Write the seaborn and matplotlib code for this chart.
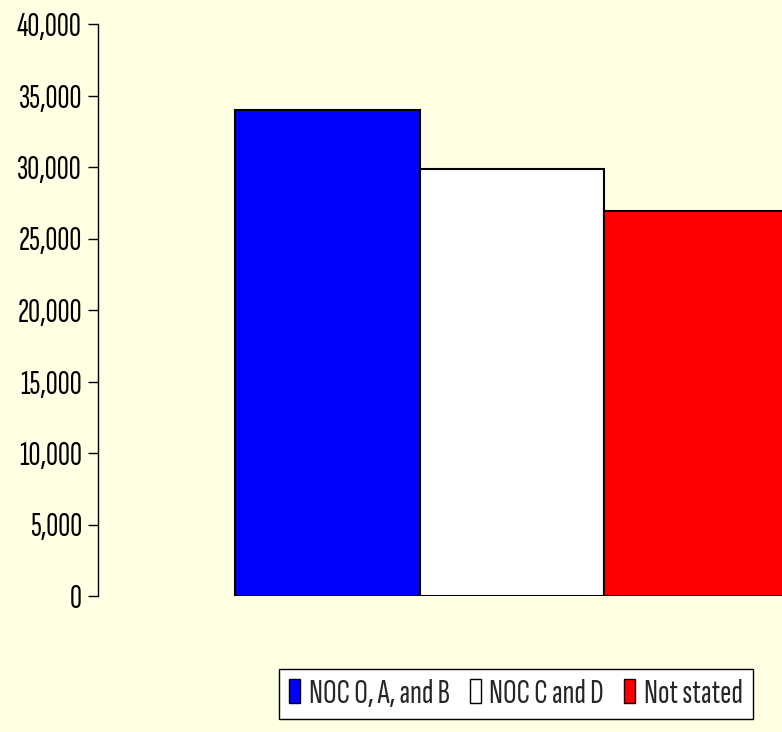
import matplotlib
matplotlib.use("Agg")
import matplotlib.pyplot as plt
import seaborn as sns
import pandas as pd
from matplotlib.ticker import FuncFormatter, MultipleLocator

categories = ["Total"]
series = ["NOC O, A, and B", "NOC C and D", "Not stated"]
values = [34000, 29850, 26950]
colors = ["#0000FF", "#FFFFFF", "#FF0000"]

df = pd.DataFrame({"cat": categories * len(series), "series": series, "value": values})

sns.set_theme(style="white")
BG = "#FFFFE3"
FONT = ["Sofia Sans Extra Condensed", "Liberation Sans", "DejaVu Sans"]
plt.rcParams["font.family"] = FONT

W, H = 782, 732
fig = plt.figure(figsize=(W / 100, H / 100), dpi=100, facecolor=BG)
ax = fig.add_axes([98 / W, (H - 596) / H, (782 - 98) / W, (596 - 24) / H])
ax.set_facecolor(BG)

sns.barplot(data=df, x="cat", y="value", hue="series", hue_order=series,
            palette=colors, width=0.8, edgecolor="black", linewidth=1.5,
            saturation=1, ax=ax, legend=True)

ax.set_xlim(-0.598, 0.390)
ax.set_ylim(0, 40000)
ax.yaxis.set_major_locator(MultipleLocator(5000))
ax.yaxis.set_major_formatter(FuncFormatter(lambda v, p: f"{int(v):,}"))
ax.set_xticks([])
ax.set_xlabel("")
ax.set_ylabel("")
for s in ["top", "right", "bottom"]:
    ax.spines[s].set_visible(False)
ax.spines["left"].set_color("black")
ax.spines["left"].set_linewidth(1.0)
ax.tick_params(axis="y", which="major", direction="out", length=7, width=1,
               color="black", left=True, pad=4.5, labelsize=24, labelcolor="black")

handles, labels = ax.get_legend_handles_labels()
ax.get_legend().remove()
leg = fig.legend(handles, labels, loc="upper left",
                 bbox_to_anchor=(279 / W, (H - 669) / H), ncol=3,
                 frameon=True, fancybox=False, edgecolor="black",
                 facecolor="white", framealpha=1, fontsize=24.5,
                 handlelength=0.32, handleheight=0.7, handletextpad=0.25,
                 columnspacing=0.6, borderpad=0.3, borderaxespad=0)
leg.get_frame().set_linewidth(1.0)
for h in leg.legend_handles:
    h.set_edgecolor("black")
    h.set_linewidth(1.0)

fig.savefig("out.png", dpi=100, facecolor=BG)
